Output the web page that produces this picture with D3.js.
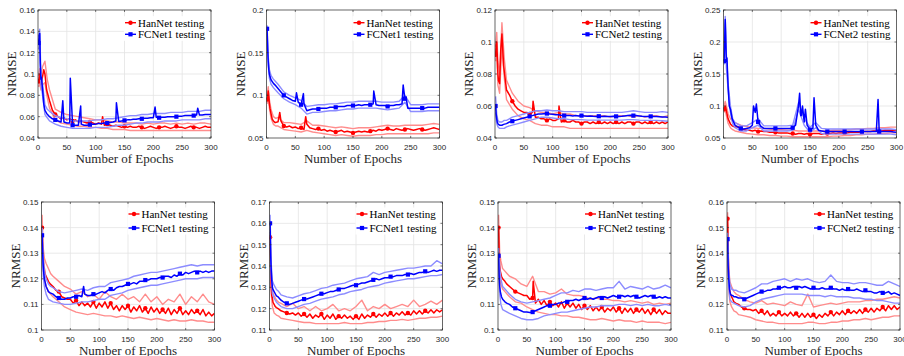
<!DOCTYPE html>
<html>
<head>
<meta charset="utf-8">
<script src="https://cdn.jsdelivr.net/npm/d3@7/dist/d3.min.js"></script>
<style>
  body { margin: 0; background: #fff; }
  svg { display: block; }
</style>
</head>
<body>
<div id="chart"></div>
<script>
const epochs = [1,2,3,4,5,6,8,10,12,15,
  20,25,30,35,40,45,50,55,60,65,70,75,80,85,90,95,100,105,110,115,120,125,130,135,140,145,
  150,155,160,165,170,175,180,185,190,195,200,205,210,215,220,225,230,235,240,245,250,255,
  260,265,270,275,280,285,290,295,300];
// epochs where the light (spread) curves were read
const bandEpochs = [1,3,5,8,12,16,20,30,40,50,60,70,80,90,100,110,120,130,140,150,160,170,180,190,200,210,220,230,240,250,260,270,280,290,300];
const markerEpochs = [1,30,60,90,120,150,180,210,240,270];
const xTicks = [0,50,100,150,200,250,300];

// ---- panel 1 ----
const p1Han = [.093,.097,.1,.095,.09,.092,.098,.104,.1,.085,
  .075,.066,.062,.06,.058,.059,.057,.058,.056,.057,.055,.056,.055,.054,.055,.054,.053,.054,.053,.052,
  .053,.052,.051,.052,.051,.05,.051,.05,.051,.05,.05,.051,.05,.049,.05,.051,.05,.049,.05,.05,
  .051,.05,.049,.05,.051,.05,.05,.049,.05,.051,.05,.05,.049,.05,.051,.05,.05];
const p1HanSpikes = [[112,.06]];
const p1HanHi = [.098,.105,.1,.107,.112,.095,.085,.067,.064,.062,.061,.06,.059,.058,.057,.057,.056,.055,.055,.054,.054,.054,.053,.054,.053,.054,.054,.053,.054,.053,.054,.053,.054,.054,.053];
const p1HanLo = [.088,.092,.085,.09,.092,.078,.068,.057,.054,.053,.052,.051,.051,.05,.05,.049,.049,.048,.048,.048,.047,.047,.047,.047,.047,.047,.047,.047,.047,.047,.047,.047,.047,.047,.047];
const p1Fc = [.129,.136,.138,.11,.095,.097,.085,.072,.066,.063,
  .06,.058,.057,.056,.055,.055,.054,.054,.052,.052,.052,.053,.052,.052,.0525,.053,.053,.0535,.0535,.054,
  .054,.0545,.055,.056,.0555,.056,.0565,.057,.057,.0575,.0575,.058,.058,.0585,.0585,.059,.059,.0595,.059,.0595,
  .0595,.06,.06,.06,.06,.0605,.0605,.061,.061,.061,.061,.0615,.0615,.0615,.062,.062,.062];
const p1FcSpikes = [[43,.075],[56,.096],[74,.07],[136,.073],[203,.069],[277,.068]];
const p1FcHi = [.135,.142,.1,.09,.071,.067,.065,.061,.059,.058,.056,.056,.056,.056,.057,.057,.058,.058,.059,.06,.061,.061,.062,.062,.063,.063,.063,.064,.064,.064,.065,.065,.065,.066,.066];
const p1FcLo = [.123,.13,.09,.08,.062,.059,.056,.053,.051,.05,.049,.049,.049,.049,.05,.05,.05,.051,.052,.052,.053,.054,.054,.055,.055,.055,.056,.056,.056,.057,.057,.057,.057,.058,.058];

// ---- panel 2 ----
const p2Han = [.095,.1,.105,.098,.09,.085,.078,.072,.07,.068,
  .069,.07,.064,.063,.064,.062,.063,.061,.062,.06,.066,.062,.061,.06,.061,.059,.06,.058,.059,.058,
  .057,.058,.059,.057,.058,.057,.056,.057,.058,.057,.058,.057,.058,.059,.058,.06,.059,.06,.061,.06,
  .059,.061,.06,.059,.06,.061,.06,.059,.06,.061,.06,.059,.06,.061,.062,.061,.06];
const p2HanSpikes = [[23,.08],[68,.075]];
const p2HanHi = [.1,.11,.095,.083,.075,.073,.074,.068,.068,.067,.066,.07,.065,.065,.064,.063,.062,.063,.062,.061,.062,.062,.062,.063,.064,.065,.064,.064,.065,.065,.065,.065,.066,.067,.066];
const p2HanLo = [.09,.1,.085,.073,.066,.064,.064,.06,.059,.058,.057,.059,.057,.056,.055,.054,.053,.054,.053,.052,.053,.053,.053,.054,.054,.055,.055,.055,.055,.055,.055,.055,.055,.056,.056];
const p2Fc = [.178,.155,.14,.13,.125,.122,.118,.116,.114,.112,
  .108,.104,.1,.098,.096,.094,.093,.092,.089,.09,.082,.083,.084,.084,.084,.085,.085,.085,.086,.086,
  .086,.087,.087,.087,.088,.088,.088,.088,.089,.088,.089,.089,.089,.09,.089,.088,.088,.088,.087,.088,
  .088,.089,.089,.09,.096,.085,.085,.085,.085,.085,.085,.085,.086,.086,.086,.086,.086];
const p2FcSpikes = [[52,.103],[64,.102],[186,.105],[237,.112],[242,.098]];
const p2FcHi = [.182,.145,.13,.123,.119,.116,.113,.104,.1,.097,.094,.087,.088,.089,.089,.09,.09,.091,.092,.092,.093,.093,.093,.093,.092,.092,.092,.093,.1,.089,.089,.089,.09,.09,.09];
const p2FcLo = [.174,.135,.12,.113,.109,.106,.103,.096,.092,.089,.085,.078,.08,.08,.081,.082,.082,.083,.084,.084,.085,.085,.085,.085,.084,.083,.084,.085,.092,.081,.081,.081,.082,.082,.082];

// ---- panel 3 ----
const p3Han = [.092,.098,.1,.09,.08,.076,.074,.095,.105,.085,
  .07,.067,.063,.06,.058,.057,.056,.056,.055,.056,.053,.053,.052,.052,.051,.052,.051,.051,.052,.05,
  .051,.05,.05,.051,.05,.05,.049,.05,.05,.049,.05,.049,.05,.049,.05,.049,.05,.049,.05,.049,
  .05,.049,.05,.05,.049,.05,.05,.049,.05,.049,.05,.049,.05,.049,.05,.049,.05];
const p3HanSpikes = [[66,.063],[111,.06]];
const p3HanHi = [.097,.106,.088,.08,.112,.09,.076,.068,.063,.06,.059,.057,.056,.056,.055,.056,.055,.055,.054,.054,.054,.054,.054,.054,.053,.054,.054,.054,.053,.054,.053,.054,.054,.053,.054];
const p3HanLo = [.088,.094,.073,.068,.098,.078,.064,.058,.054,.052,.051,.049,.048,.048,.047,.047,.047,.046,.046,.046,.046,.046,.046,.046,.046,.046,.046,.046,.046,.046,.046,.046,.046,.046,.046];
const p3Fc = [.06,.055,.052,.05,.049,.0485,.048,.048,.048,.0485,
  .049,.05,.0505,.051,.0515,.052,.0525,.053,.0535,.054,.0545,.055,.055,.0552,.0553,.055,.0548,.0545,.0545,.0542,
  .054,.054,.054,.0538,.054,.0538,.054,.0538,.0536,.0538,.0536,.0535,.0536,.0535,.0536,.0535,.0535,.0536,.0535,.0535,
  .0536,.0538,.054,.0542,.054,.054,.0538,.0536,.0535,.0535,.0535,.0535,.0534,.0533,.0532,.0532,.053];
const p3FcSpikes = [];
const p3FcHi = [.066,.055,.051,.05,.05,.051,.051,.053,.054,.055,.056,.057,.057,.0575,.057,.057,.0565,.0565,.0565,.0565,.056,.056,.056,.056,.056,.056,.056,.0565,.057,.0565,.056,.056,.056,.0565,.056];
const p3FcLo = [.056,.049,.047,.046,.046,.046,.047,.048,.049,.05,.051,.052,.053,.053,.0525,.052,.052,.0515,.0515,.0515,.0512,.0512,.0512,.0512,.0512,.0512,.0512,.0515,.0515,.0512,.051,.051,.051,.0508,.0505];

// ---- panel 4 ----
const p4Han = [.095,.098,.1,.097,.092,.088,.08,.076,.072,.069,
  .067,.068,.064,.063,.062,.062,.061,.062,.06,.061,.06,.06,.059,.059,.059,.058,.058,.058,.058,.057,
  .057,.056,.057,.057,.056,.057,.056,.057,.057,.057,.056,.057,.057,.057,.058,.057,.058,.058,.058,.058,
  .059,.059,.059,.059,.06,.06,.06,.06,.061,.061,.061,.061,.062,.062,.062,.062,.062];
const p4HanSpikes = [];
const p4HanHi = [.1,.107,.1,.088,.08,.076,.074,.07,.068,.066,.065,.065,.064,.063,.063,.062,.062,.061,.061,.061,.061,.061,.061,.062,.062,.063,.063,.064,.064,.065,.065,.066,.066,.067,.067];
const p4HanLo = [.09,.094,.085,.073,.066,.063,.061,.059,.057,.056,.055,.055,.054,.054,.053,.053,.052,.052,.052,.052,.052,.052,.052,.053,.053,.054,.054,.055,.055,.056,.056,.057,.057,.058,.058];
const p4Fc = [.17,.2,.235,.2,.17,.175,.13,.1,.095,.08,
  .07,.067,.065,.064,.065,.066,.07,.09,.075,.068,.065,.065,.065,.065,.065,.065,.065,.065,.065,.065,
  .066,.07,.1,.085,.075,.07,.063,.065,.07,.062,.061,.06,.06,.06,.06,.06,.06,.06,.06,.06,
  .06,.06,.06,.06,.06,.06,.06,.06,.06,.06,.06,.06,.06,.06,.06,.0595,.059];
const p4FcSpikes = [[52,.1],[57,.103],[132,.12],[134,.085],[137,.1],[142,.095],[157,.113],[268,.11]];
const p4FcHi = [.175,.24,.18,.135,.1,.08,.074,.069,.069,.074,.08,.069,.069,.069,.069,.069,.07,.105,.08,.067,.074,.065,.064,.064,.064,.064,.064,.064,.064,.064,.064,.064,.064,.064,.063];
const p4FcLo = [.165,.23,.16,.125,.09,.072,.066,.061,.061,.066,.07,.061,.061,.061,.061,.061,.062,.095,.07,.059,.066,.057,.056,.056,.056,.056,.056,.056,.056,.056,.056,.056,.056,.056,.055];

// ---- panel 5 ----
const p5Han = [.14,.132,.128,.125,.124,.122,.121,.12,.119,.118,
  .117,.1155,.115,.113,.1125,.112,
  .112,.1105,.1115,.1095,.111,.1095,.1105,.109,.111,.1085,
  .1105,.109,.111,.1085,.1105,.108,.1095,.1075,.1095,.108,
  .1095,.107,.109,.1075,.1095,.107,.1085,.1065,.109,.107,
  .1085,.1065,.108,.1065,.1085,.106,.108,.1065,.1085,.106,
  .1075,.106,.108,.1065,.1075,.106,.108,.1055,.107,.1055,.1065];
const p5HanSpikes = [];
const p5HanHi = [.145,.132,.128,.126,.124,.122,.121,.119,.117,.116,.114,.115,.113,.114,.112,.115,.113,.112,.114,.112,.113,.111,.114,.111,.113,.11,.112,.111,.114,.11,.113,.111,.114,.111,.11];
const p5HanLo = [.135,.124,.12,.117,.115,.114,.113,.111,.109,.108,.107,.1065,.106,.1065,.106,.1055,.1055,.105,.1055,.105,.1045,.105,.1045,.104,.1045,.104,.1035,.104,.1035,.1035,.104,.1035,.1035,.103,.103];
const p5Fc = [.137,.13,.125,.122,.12,.119,.117,.116,.115,.1145,
  .114,.113,.1125,.112,.112,.1125,.1125,.113,.113,.1135,.113,.114,.1135,.1135,.114,.114,.1145,.115,.1145,.1155,
  .116,.1155,.1165,.117,.117,.1175,.118,.118,.1185,.118,.119,.119,.1195,.1195,.12,.12,.12,.1205,.1205,.121,
  .121,.1205,.1215,.121,.122,.1215,.1225,.122,.1225,.123,.1225,.123,.1225,.123,.1225,.123,.123];
const p5FcSpikes = [[73,.117]];
const p5FcHi = [.14,.128,.123,.12,.118,.117,.1165,.115,.1145,.115,.1155,.116,.1155,.1165,.117,.117,.1185,.119,.1195,.12,.121,.1215,.122,.1225,.1225,.123,.1235,.124,.1245,.125,.1255,.125,.1255,.1255,.1255];
const p5FcLo = [.134,.121,.117,.114,.112,.1115,.111,.1105,.11,.11,.1105,.111,.111,.1115,.112,.112,.1135,.114,.1145,.1155,.116,.1165,.117,.1175,.1175,.118,.1185,.119,.1195,.12,.12,.12,.1205,.1205,.1205];

// ---- panel 6 ----
const p6Han = [.1535,.14,.13,.126,.125,.123,.122,.121,.1205,.12,
  .119,.1185,.118,.1175,.118,.117,
  .118,.1165,.1175,.116,.1175,.1155,.117,.116,.1175,.115,
  .117,.1155,.1175,.115,.1165,.1155,.117,.1155,.1165,.115,
  .1165,.115,.1175,.1155,.117,.116,.1175,.116,.1175,.1165,
  .118,.1165,.118,.1165,.118,.117,.1185,.117,.118,.117,
  .119,.1175,.119,.1175,.119,.118,.1195,.118,.1195,.1185,.1195];
const p6HanSpikes = [];
const p6HanHi = [.156,.134,.128,.126,.124,.123,.1225,.121,.1225,.12,.121,.119,.121,.119,.12,.122,.119,.12,.119,.121,.124,.119,.121,.12,.122,.12,.121,.122,.121,.124,.121,.122,.1235,.122,.124];
const p6HanLo = [.151,.127,.121,.118,.117,.1165,.1155,.115,.1145,.114,.1135,.1135,.113,.113,.113,.113,.113,.1135,.113,.113,.113,.1135,.1135,.114,.114,.1145,.1145,.115,.1145,.115,.1155,.1155,.116,.116,.1165];
const p6Fc = [.16,.145,.138,.133,.13,.129,.128,.127,.126,.1255,
  .124,.123,.1225,.122,.1225,.123,.1235,.124,.1245,.1245,.125,.1255,.126,.1265,.127,.127,.1275,.128,.128,.1285,
  .129,.1295,.1295,.13,.1305,.131,.131,.1315,.132,.132,.1325,.133,.1335,.134,.1335,.134,.1345,.1345,.135,.135,
  .1355,.1355,.1355,.136,.136,.1365,.136,.1365,.137,.137,.1375,.137,.1375,.138,.1375,.138,.138];
const p6FcSpikes = [];
const p6FcHi = [.164,.141,.133,.131,.129,.128,.1265,.1255,.125,.126,.127,.1275,.1285,.1295,.13,.131,.1315,.132,.133,.134,.1345,.135,.137,.136,.137,.1375,.138,.1385,.139,.139,.1395,.14,.14,.1425,.141];
const p6FcLo = [.156,.135,.127,.125,.123,.122,.121,.12,.12,.121,.122,.1225,.1235,.1245,.125,.1255,.1265,.127,.128,.1285,.129,.13,.1305,.131,.132,.1325,.133,.1335,.134,.134,.1345,.135,.1355,.1355,.136];

// ---- panel 7 ----
const p7Han = [.14,.13,.125,.123,.122,.121,.12,.1195,.119,.118,
  .117,.116,.115,.1145,.114,.1135,
  .1135,.112,.1125,.1105,.112,.11,.1115,.1095,.111,.1095,
  .1105,.109,.111,.1085,.1105,.109,.1105,.1085,.11,.108,
  .1095,.108,.1095,.1075,.109,.1075,.109,.107,.1085,.1075,
  .109,.107,.1085,.1065,.1085,.107,.1085,.1065,.108,.107,
  .1085,.1065,.108,.106,.108,.1065,.108,.106,.1075,.1065,.1065];
const p7HanSpikes = [[61,.119]];
const p7HanHi = [.145,.13,.127,.124,.123,.122,.121,.12,.118,.117,.121,.115,.115,.114,.1145,.116,.114,.1135,.1135,.113,.112,.1125,.112,.112,.1115,.1115,.111,.1115,.111,.1105,.111,.11,.1105,.11,.1105];
const p7HanLo = [.135,.12,.118,.116,.115,.114,.113,.111,.1105,.109,.108,.107,.1065,.106,.106,.1055,.1055,.105,.105,.1045,.104,.104,.1045,.104,.1035,.104,.1035,.1035,.103,.1035,.103,.103,.103,.1025,.103];
const p7Fc = [.129,.121,.117,.115,.114,.113,.112,.1115,.111,.1105,
  .11,.109,.1085,.108,.1075,.107,.107,.1068,.107,.1075,.108,.1085,.109,.1095,.1095,.11,.11,.1105,.1105,.111,
  .111,.1115,.1115,.112,.1115,.112,.1125,.112,.1125,.112,.1125,.113,.1125,.113,.1125,.113,.1135,.113,.113,.1135,
  .113,.1135,.113,.1135,.113,.1125,.113,.1135,.113,.1135,.113,.1125,.113,.1125,.113,.1125,.1125];
const p7FcSpikes = [];
const p7FcHi = [.132,.124,.12,.117,.116,.115,.114,.112,.111,.1105,.111,.1115,.112,.1125,.1135,.1145,.1145,.1155,.115,.116,.116,.1155,.116,.1165,.1165,.119,.116,.117,.1165,.116,.117,.116,.1165,.1175,.1165];
const p7FcLo = [.126,.114,.11,.108,.1075,.107,.1065,.1055,.1045,.104,.104,.1045,.1055,.106,.1065,.107,.107,.1075,.108,.1085,.109,.109,.1095,.1095,.1095,.11,.11,.1095,.11,.1095,.11,.1095,.1095,.11,.1095];

// ---- panel 8 ----
const p8Han = [.1535,.14,.13,.126,.125,.124,.123,.122,.121,.1205,
  .12,.119,.1185,.118,.118,.1175,
  .118,.1165,.1175,.116,.1175,.1155,.1165,.1155,.117,.1155,
  .1165,.1155,.117,.1155,.1165,.115,.1165,.115,.1165,.115,
  .116,.1145,.116,.115,.1165,.1155,.117,.1155,.117,.116,
  .1175,.116,.1175,.1165,.1175,.1165,.118,.1165,.118,.117,
  .1185,.117,.1185,.1175,.119,.1175,.1195,.118,.1195,.118,.119];
const p8HanSpikes = [];
const p8HanHi = [.156,.134,.129,.127,.125,.124,.1235,.122,.121,.1205,.1215,.12,.1205,.12,.1195,.121,.12,.1195,.124,.119,.1195,.12,.1205,.12,.1205,.121,.121,.121,.1215,.1215,.122,.122,.1225,.123,.1225];
const p8HanLo = [.151,.126,.121,.119,.1175,.117,.116,.1155,.115,.114,.1135,.113,.113,.1125,.1125,.1125,.1125,.1125,.113,.113,.1125,.1125,.113,.113,.1135,.1135,.114,.114,.1145,.114,.1145,.115,.115,.1155,.1155];
const p8Fc = [.1455,.135,.13,.127,.125,.124,.1235,.1235,.123,.123,
  .1225,.1225,.122,.1225,.123,.1235,.124,.1245,.125,.125,.1255,.1255,.126,.126,.1265,.1265,.127,.1265,.1265,.127,
  .1265,.127,.1265,.127,.1265,.126,.1265,.126,.126,.1265,.126,.126,.1265,.126,.126,.1255,.126,.1255,.126,.1255,
  .1255,.126,.1255,.125,.1255,.125,.125,.1245,.1245,.125,.1245,.1245,.125,.124,.1245,.124,.1235];
const p8FcSpikes = [];
const p8FcHi = [.148,.133,.128,.126,.1255,.1255,.125,.1245,.1255,.1265,.128,.128,.129,.1295,.13,.129,.13,.1295,.13,.129,.1285,.129,.1315,.129,.1285,.1285,.128,.1285,.1285,.128,.1275,.1275,.129,.128,.127];
const p8FcLo = [.143,.127,.122,.121,.1205,.12,.1195,.119,.1195,.121,.122,.1225,.123,.1235,.124,.124,.124,.124,.1235,.1235,.1235,.123,.1235,.123,.123,.123,.1225,.1225,.122,.122,.1215,.1215,.121,.1205,.1205];

// y-axis ranges and ticks per panel
const yDomains = [[.04,.16],[.05,.2],[.04,.12],[.05,.25],[.1,.15],[.11,.17],[.1,.15],[.11,.16]];
const yTickSets = [
  [.04,.06,.08,.1,.12,.14,.16],
  [.05,.1,.15,.2],
  [.04,.06,.08,.1,.12],
  [.05,.1,.15,.2,.25],
  [.1,.11,.12,.13,.14,.15],
  [.11,.12,.13,.14,.15,.16,.17],
  [.1,.11,.12,.13,.14,.15],
  [.11,.12,.13,.14,.15,.16]
];
const hanLabel = 'HanNet testing';
const fcLabels = ['FCNet1 testing','FCNet1 testing','FCNet2 testing','FCNet2 testing',
                  'FCNet1 testing','FCNet1 testing','FCNet2 testing','FCNet2 testing'];

const panels = [
  {han: [p1Han, p1HanSpikes, p1HanHi, p1HanLo], fc: [p1Fc, p1FcSpikes, p1FcHi, p1FcLo]},
  {han: [p2Han, p2HanSpikes, p2HanHi, p2HanLo], fc: [p2Fc, p2FcSpikes, p2FcHi, p2FcLo]},
  {han: [p3Han, p3HanSpikes, p3HanHi, p3HanLo], fc: [p3Fc, p3FcSpikes, p3FcHi, p3FcLo]},
  {han: [p4Han, p4HanSpikes, p4HanHi, p4HanLo], fc: [p4Fc, p4FcSpikes, p4FcHi, p4FcLo]},
  {han: [p5Han, p5HanSpikes, p5HanHi, p5HanLo], fc: [p5Fc, p5FcSpikes, p5FcHi, p5FcLo]},
  {han: [p6Han, p6HanSpikes, p6HanHi, p6HanLo], fc: [p6Fc, p6FcSpikes, p6FcHi, p6FcLo]},
  {han: [p7Han, p7HanSpikes, p7HanHi, p7HanLo], fc: [p7Fc, p7FcSpikes, p7FcHi, p7FcLo]},
  {han: [p8Han, p8HanSpikes, p8HanHi, p8HanLo], fc: [p8Fc, p8FcSpikes, p8FcHi, p8FcLo]}
];

// layout of the 2x4 grid of axes
const boxLeft = [38, 266.5, 495, 723.5, 41.5, 269.5, 498, 727];
const boxTop = [10, 10, 10, 10, 202, 202, 202, 202];
const boxW = 173, boxH = 128;
const legendRows = [[12.7, 24.3], [12, 26]];

const SERIF = "'Liberation Serif', 'Times New Roman', Times, serif";
const SANS = "'Liberation Sans', Arial, Helvetica, sans-serif";

const W = 904, H = 356;
const svg = d3.select('#chart').append('svg').attr('width', W).attr('height', H);

const RED = '#ff0000', BLUE = '#0000ff';
const fmt = v => String(+v.toFixed(3));

// put spike points in between the regular samples
function meanPoints(vals, spikes) {
  const pts = epochs.map((e, i) => [e, vals[i]]);
  return pts.concat(spikes).sort((a, b) => a[0] - b[0]);
}

panels.forEach((p, k) => {
  const x0 = boxLeft[k], y0 = boxTop[k];
  const row = k < 4 ? 0 : 1;
  const g = svg.append('g').attr('transform', `translate(${x0},${y0})`);

  const x = d3.scaleLinear().domain([0, 300]).range([0, boxW]);
  const y = d3.scaleLinear().domain(yDomains[k]).range([boxH, 0]);

  g.append('clipPath').attr('id', 'clip' + k)
    .append('rect').attr('width', boxW).attr('height', boxH);

  // grid
  g.selectAll('.gx').data(xTicks.slice(1, -1)).enter().append('line')
    .attr('x1', d => x(d)).attr('x2', d => x(d)).attr('y1', 0).attr('y2', boxH)
    .attr('stroke', '#e3e3e3').attr('stroke-width', 0.8);
  g.selectAll('.gy').data(yTickSets[k].slice(1, -1)).enter().append('line')
    .attr('y1', d => y(d)).attr('y2', d => y(d)).attr('x1', 0).attr('x2', boxW)
    .attr('stroke', '#e3e3e3').attr('stroke-width', 0.8);

  const plot = g.append('g').attr('clip-path', `url(#clip${k})`);
  const line = d3.line().x(d => x(d[0])).y(d => y(d[1]));

  [['han', RED, '#ff8c8c'], ['fc', BLUE, '#8c8cff']].forEach(([key, col, light]) => {
    const [mean, spikes, hi, lo] = p[key];
    [hi, lo].forEach(arr => {
      plot.append('path')
        .datum(bandEpochs.map((e, i) => [e, arr[i]]))
        .attr('d', line).attr('fill', 'none')
        .attr('stroke', light).attr('stroke-width', 1.4)
        .attr('stroke-linejoin', 'round');
    });
    plot.append('path')
      .datum(meanPoints(mean, spikes))
      .attr('d', line).attr('fill', 'none')
      .attr('stroke', col).attr('stroke-width', 1.5)
      .attr('stroke-linejoin', 'round');
    const mk = markerEpochs.map(e => [e, mean[epochs.indexOf(e)]]);
    if (key === 'han') {
      plot.selectAll('.mh').data(mk).enter().append('circle')
        .attr('cx', d => x(d[0])).attr('cy', d => y(d[1])).attr('r', 2.2).attr('fill', col);
    } else {
      plot.selectAll('.mf').data(mk).enter().append('rect')
        .attr('x', d => x(d[0]) - 2.1).attr('y', d => y(d[1]) - 2.1)
        .attr('width', 4.2).attr('height', 4.2).attr('fill', col);
    }
  });

  // axes box + inward ticks
  g.append('rect').attr('width', boxW).attr('height', boxH)
    .attr('fill', 'none').attr('stroke', '#262626').attr('stroke-width', 0.7);
  const tl = 2;
  xTicks.forEach(t => {
    g.append('line').attr('x1', x(t)).attr('x2', x(t)).attr('y1', boxH).attr('y2', boxH - tl).attr('stroke', '#262626').attr('stroke-width', 0.6);
    g.append('line').attr('x1', x(t)).attr('x2', x(t)).attr('y1', 0).attr('y2', tl).attr('stroke', '#262626').attr('stroke-width', 0.6);
    g.append('text').attr('font-family', SANS).attr('font-size', 8).attr('fill', '#262626')
      .attr('x', x(t)).attr('y', boxH + 12)
      .attr('text-anchor', 'middle').text(t);
  });
  yTickSets[k].forEach(t => {
    g.append('line').attr('x1', 0).attr('x2', tl).attr('y1', y(t)).attr('y2', y(t)).attr('stroke', '#262626').attr('stroke-width', 0.6);
    g.append('line').attr('x1', boxW).attr('x2', boxW - tl).attr('y1', y(t)).attr('y2', y(t)).attr('stroke', '#262626').attr('stroke-width', 0.6);
    g.append('text').attr('font-family', SANS).attr('font-size', 8).attr('fill', '#262626')
      .attr('x', -3).attr('y', y(t) + 3)
      .attr('text-anchor', 'end').text(fmt(t));
  });

  // axis titles
  g.append('text').attr('font-family', SERIF).attr('font-size', 13).attr('fill', '#262626')
    .attr('x', boxW / 2).attr('y', boxH + 24.5).attr('text-anchor', 'middle')
    .text('Number of Epochs');
  g.append('text').attr('font-family', SERIF).attr('font-size', 13).attr('fill', '#262626')
    .attr('transform', `translate(${-22},${boxH / 2}) rotate(-90)`)
    .attr('text-anchor', 'middle').text('NRMSE');

  // legend
  const lx = boxW - 86;
  const ry = legendRows[row];
  g.append('rect').attr('x', lx - 1).attr('y', ry[0] - 6.5).attr('width', 84)
    .attr('height', ry[1] - ry[0] + 13).attr('fill', '#fff');
  [[hanLabel, RED, 'c'], [fcLabels[k], BLUE, 's']].forEach(([lab, col, m], i) => {
    const yy = ry[i];
    g.append('line').attr('x1', lx).attr('x2', lx + 11).attr('y1', yy).attr('y2', yy)
      .attr('stroke', col).attr('stroke-width', 1.4);
    if (m === 'c') {
      g.append('circle').attr('cx', lx + 5.5).attr('cy', yy).attr('r', 2.2).attr('fill', col);
    } else {
      g.append('rect').attr('x', lx + 3.4).attr('y', yy - 2.1).attr('width', 4.2).attr('height', 4.2).attr('fill', col);
    }
    g.append('text').attr('font-family', SERIF).attr('font-size', 11).attr('fill', '#000')
      .attr('x', lx + 13).attr('y', yy + 3.8).text(lab);
  });
});
</script>
</body>
</html>
